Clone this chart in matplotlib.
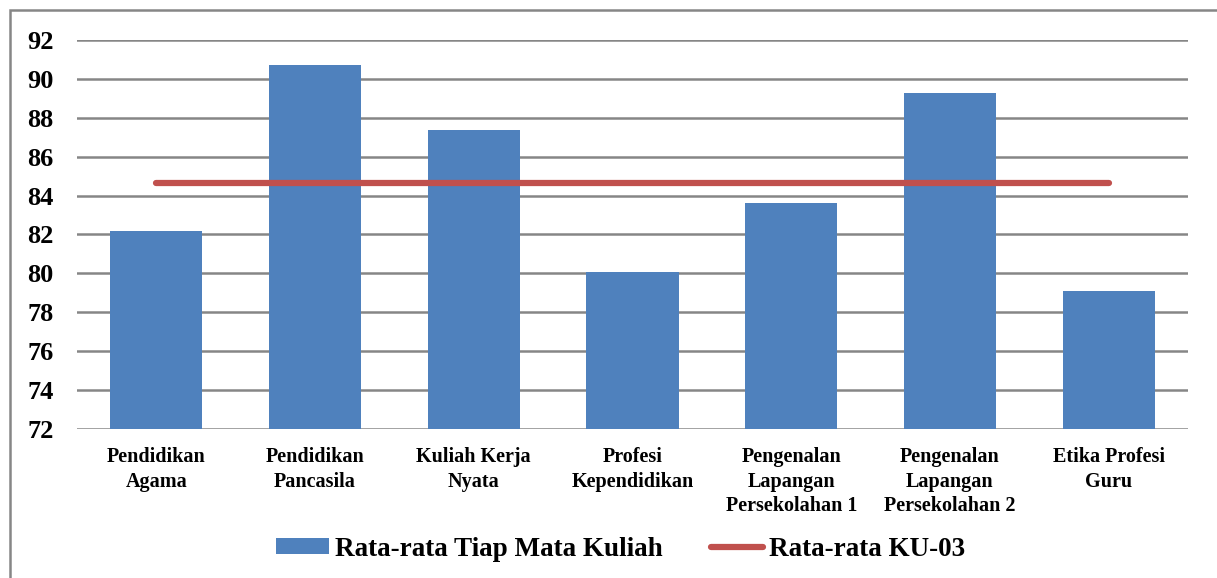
import matplotlib.pyplot as plt
import numpy as np
from matplotlib.patches import Rectangle

categories = ["Pendidikan\nAgama", "Pendidikan\nPancasila", "Kuliah Kerja\nNyata",
              "Profesi\nKependidikan", "Pengenalan\nLapangan\nPersekolahan 1",
              "Pengenalan\nLapangan\nPersekolahan 2", "Etika Profesi\nGuru"]
rata_matkul = [82.18, 90.71, 87.37, 80.07, 83.62, 89.28, 79.1]
rata_ku03 = [84.65] * 7
yticks = [72, 74, 76, 78, 80, 82, 84, 86, 88, 90, 92]

plt.rcParams['font.family'] = ['Liberation Serif', 'DejaVu Serif']
plt.rcParams['font.weight'] = 'bold'

fig = plt.figure(figsize=(12.17, 5.78), dpi=100)
ax = fig.add_axes([77/1217, 1-429/578, (1188-77)/1217, (429-40)/578])

x = np.arange(len(categories))
bars = ax.bar(x, rata_matkul, width=0.58, color="#4F81BD", zorder=2, label="Rata-rata Tiap Mata Kuliah")
line, = ax.plot(x, rata_ku03, color="#C0504D", lw=4.5, solid_capstyle='round', zorder=3, label="Rata-rata KU-03")

ax.set_xlim(-0.5, len(categories) - 0.5)
ax.set_ylim(72, 92)
ax.set_yticks(yticks)
ax.set_xticks(x)
ax.set_xticklabels(categories, fontsize=14.5, fontweight='bold', linespacing=1.3)
ax.tick_params(axis='y', labelsize=19, length=0, pad=17)
ax.tick_params(axis='x', length=0, pad=13)
for lab in ax.get_yticklabels():
    lab.set_fontweight('bold')
ax.grid(axis='y', color="#868686", lw=1.8, zorder=0)
for s in ax.spines.values():
    s.set_visible(False)

fig.legend([bars, line], ["Rata-rata Tiap Mata Kuliah", "Rata-rata KU-03"],
           loc='center', bbox_to_anchor=(0.51, 1-549/578), ncol=2, frameon=False,
           prop={'size': 19.5, 'weight': 'bold'}, handlelength=1.95, handleheight=0.52,
           handletextpad=0.22, columnspacing=1.78)

fig.patches.append(Rectangle((10/1217, -0.1), 1.2, 1-10/578+0.1, transform=fig.transFigure,
                             fill=False, edgecolor="#868686", lw=1.8))

fig.savefig("out.png", dpi=100)
